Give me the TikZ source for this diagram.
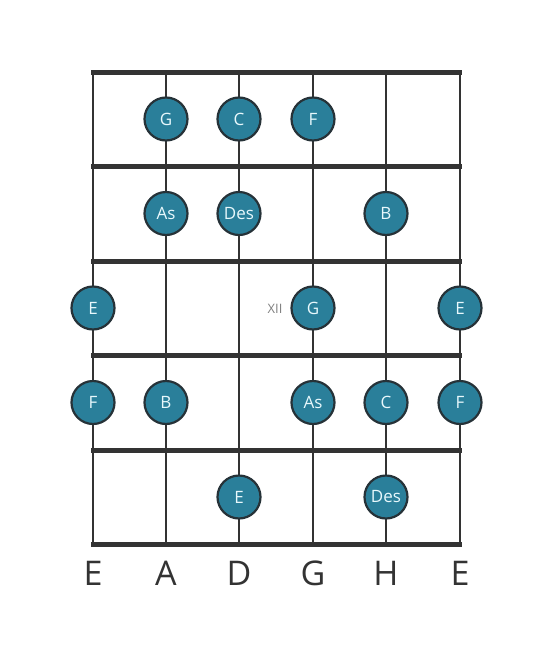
\documentclass[tikz,border=0pt]{standalone}
\usepackage{fontspec}
\setmainfont{Open Sans}
\definecolor{dotfill}{HTML}{2A7F9A}
\definecolor{dotline}{HTML}{263238}
\definecolor{gridc}{HTML}{333333}
\definecolor{notetxt}{HTML}{E8F8FC}
\begin{document}
\begin{tikzpicture}[x=1pt,y=-1pt,
  fretline/.style={draw=gridc,line width=5pt},
  stringline/.style={draw=gridc,line width=2.8pt},
  notedot/.style={circle,fill=dotfill,draw=dotline,line width=2.2pt,minimum size=43pt,inner sep=0pt,text=notetxt,font=\fontsize{17}{19}\selectfont},
  strlabel/.style={text=gridc,font=\fontsize{34}{36}\selectfont},
  fretmark/.style={text=gray,font=\fontsize{13}{15}\selectfont}]
\useasboundingbox (0,0) rectangle (553,656);
% strings
\foreach \x/\n in {93/s1,166/s2,239/s3,313/s4,386/s5,460/s6}{
  \coordinate (\n t) at (\x,72);
  \coordinate (\n b) at (\x,544);
  \draw[stringline] (\n t) -- (\n b);
}
% frets
\foreach \y/\n in {72/f0,166/f1,261/f2,355/f3,450/f4,544/f5}{
  \coordinate (\n l) at (91,\y);
  \coordinate (\n r) at (462,\y);
  \draw[fretline] (\n l) -- (\n r);
}
% notes
\node[notedot] (n1) at (166,119) {G};
\node[notedot] (n2) at (239,119) {C};
\node[notedot] (n3) at (313,119) {F};
\node[notedot] (n4) at (166,213.5) {As};
\node[notedot] (n5) at (239,213.5) {Des};
\node[notedot] (n6) at (386,213.5) {B};
\node[notedot] (n7) at (93,308) {E};
\node[notedot] (n8) at (313,308) {G};
\node[notedot] (n9) at (460,308) {E};
\node[notedot] (n10) at (93,402.5) {F};
\node[notedot] (n11) at (166,402.5) {B};
\node[notedot] (n12) at (313,402.5) {As};
\node[notedot] (n13) at (386,402.5) {C};
\node[notedot] (n14) at (460,402.5) {F};
\node[notedot] (n15) at (239,497) {E};
\node[notedot] (n16) at (386,497) {Des};
\node[fretmark] (xii) at (275,309) {XII};
% string labels
\node[strlabel] (l1) at (93,573) {E};
\node[strlabel] (l2) at (166,573) {A};
\node[strlabel] (l3) at (239,573) {D};
\node[strlabel] (l4) at (313,573) {G};
\node[strlabel] (l5) at (386,573) {H};
\node[strlabel] (l6) at (460,573) {E};
\end{tikzpicture}
\end{document}
